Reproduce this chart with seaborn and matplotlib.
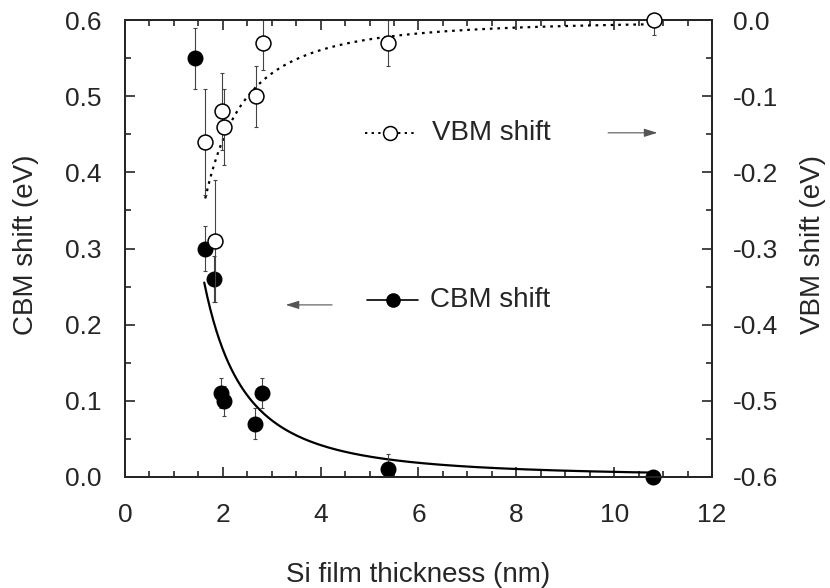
import numpy as np
import pandas as pd
import matplotlib
matplotlib.use("Agg")
import matplotlib.pyplot as plt
from matplotlib.ticker import MultipleLocator
import seaborn as sns

# Conduction band minimum shift (left axis)
cbm_thickness = [1.43, 1.64, 1.82, 1.96, 2.02, 2.66, 2.80, 5.38, 10.8]
cbm_shift = [0.55, 0.30, 0.26, 0.11, 0.10, 0.07, 0.11, 0.01, 0.0]
cbm_err = [0.04, 0.03, 0.03, 0.02, 0.02, 0.02, 0.02, 0.02, 0.0]

# Valence band maximum shift (right axis)
vbm_thickness = [1.64, 1.84, 1.98, 2.02, 2.68, 2.82, 5.38, 10.82]
vbm_shift = [-0.16, -0.29, -0.12, -0.14, -0.10, -0.03, -0.03, 0.0]
vbm_err = [0.07, 0.08, 0.05, 0.05, 0.04, 0.035, 0.03, 0.02]

# Confinement model curves  shift = +/- A / d^2
cbm_fit_coef = 0.67
vbm_fit_coef = 0.63
cbm_fit_range = (1.62, 10.8)
vbm_fit_range = (1.64, 10.8)

x_ticks = [0, 2, 4, 6, 8, 10, 12]
left_ticks = [0.0, 0.1, 0.2, 0.3, 0.4, 0.5, 0.6]
right_ticks = [0.0, -0.1, -0.2, -0.3, -0.4, -0.5, -0.6]

sns.set_style("ticks")
plt.rcParams["font.family"] = ["Liberation Sans", "DejaVu Sans"]

FS = 20
TICK_FS = 19

fig = plt.figure(figsize=(8.3, 5.88), dpi=100)
ax = fig.add_axes([0.1506, 0.1888, 0.7072, 0.777])
ax2 = ax.twinx()

d_cbm = np.linspace(*cbm_fit_range, 300)
d_vbm = np.linspace(*vbm_fit_range, 300)
cbm_fit = pd.DataFrame({"d": d_cbm, "E": cbm_fit_coef / d_cbm ** 2})
vbm_fit = pd.DataFrame({"d": d_vbm, "E": -vbm_fit_coef / d_vbm ** 2})

sns.lineplot(data=cbm_fit, x="d", y="E", ax=ax, color="black", lw=1.6)
sns.lineplot(data=vbm_fit, x="d", y="E", ax=ax2, color="black", lw=1.6,
             linestyle=(0, (1.2, 2.2)))

ax.errorbar(cbm_thickness, cbm_shift, yerr=cbm_err, fmt="none",
            ecolor="#444444", elinewidth=0.8, capsize=1.5, capthick=0.8)
ax2.errorbar(vbm_thickness, vbm_shift, yerr=vbm_err, fmt="none",
             ecolor="#444444", elinewidth=0.8, capsize=1.5, capthick=0.8)

sns.scatterplot(x=cbm_thickness, y=cbm_shift, ax=ax, s=110, color="black",
                edgecolor="black", linewidth=1, zorder=5, clip_on=False)
sns.scatterplot(x=vbm_thickness, y=vbm_shift, ax=ax2, s=115, color="white",
                edgecolor="black", linewidth=1.1, zorder=5, clip_on=False)

# In-plot keys
ax.plot([4.95, 5.99], [0.232, 0.232], color="black", lw=1.2)
ax.plot([5.48], [0.232], "o", ms=9.5, color="black")
ax.text(6.24, 0.232, "CBM shift", fontsize=FS, va="center", ha="left")
ax.annotate("", xy=(3.23, 0.226), xytext=(4.29, 0.226),
            arrowprops=dict(arrowstyle="-|>,head_length=0.8,head_width=0.25",
                            color="#555555", lw=0.8))

ax2.plot([4.91, 5.97], [-0.148, -0.148], color="black", lw=1.4,
         linestyle=(0, (1.2, 2.2)))
ax2.plot([5.42], [-0.148], "o", ms=10, mfc="white", mec="black", mew=1.1)
ax2.text(6.28, -0.148, "VBM shift", fontsize=FS, va="center", ha="left")
ax2.annotate("", xy=(10.94, -0.148), xytext=(9.82, -0.148),
             arrowprops=dict(arrowstyle="-|>,head_length=0.8,head_width=0.25",
                             color="#555555", lw=0.8))

ax.set_xlim(0, 12)
ax.set_ylim(0, 0.6)
ax2.set_ylim(-0.6, 0.0)
ax.set_xticks(x_ticks)
ax.set_xticklabels([str(t) for t in x_ticks])
ax.set_yticks(left_ticks)
ax.set_yticklabels([f"{t:.1f}" for t in left_ticks])
ax2.set_yticks(right_ticks)
ax2.set_yticklabels([f"{t:.1f}" for t in right_ticks])
ax.xaxis.set_minor_locator(MultipleLocator(0.5))
ax.yaxis.set_minor_locator(MultipleLocator(0.05))
ax2.yaxis.set_minor_locator(MultipleLocator(0.05))

for a in (ax, ax2):
    a.tick_params(which="major", length=7)
    a.tick_params(which="minor", length=4)
    for s in a.spines.values():
        s.set_linewidth(1.4)
        s.set_visible(True)
ax.tick_params(axis="x", which="both", direction="in", top=True, bottom=True,
               labelsize=TICK_FS, pad=19, width=1.2)
ax.tick_params(axis="y", which="both", direction="in", left=True, right=False,
               labelsize=TICK_FS, pad=17, width=1.2)
ax2.tick_params(axis="y", which="both", direction="in", right=True,
                labelsize=TICK_FS, pad=15, width=1.2)

ax.set_xlabel("Si film thickness (nm)", fontsize=FS)
ax.set_ylabel("CBM shift (eV)", fontsize=FS)
ax2.set_ylabel("VBM shift (eV)", fontsize=FS)
ax.xaxis.label.set_va("center")
ax.yaxis.label.set_va("center")
ax2.yaxis.label.set_va("center")
ax.xaxis.set_label_coords(0.5, -0.214)
ax.yaxis.set_label_coords(-0.168, 0.508)
ax2.yaxis.set_label_coords(1.172, 0.508)

fig.savefig("out.png", dpi=100)
